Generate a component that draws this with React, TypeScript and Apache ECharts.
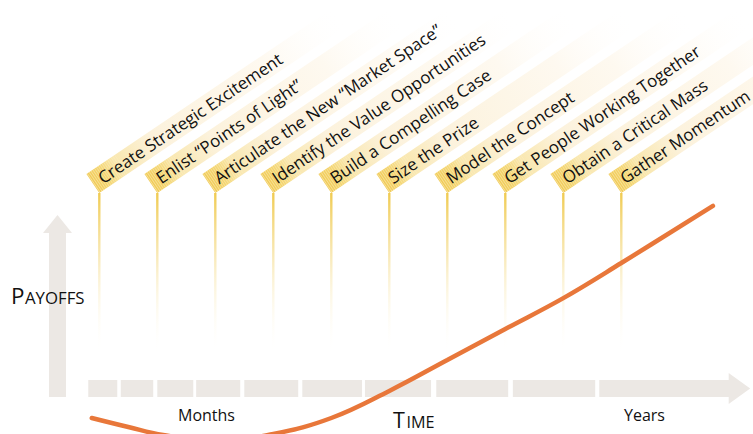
import React, { useEffect, useRef } from "react";
import * as echarts from "echarts";

// Milestones along the time axis (time in milestone steps)
const milestoneLabels = [
  "Create Strategic Excitement",
  "Enlist \u201cPoints of Light\u201d",
  "Articulate the New \u201cMarket Space\u201d",
  "Identify the Value Opportunities",
  "Build a Compelling Case",
  "Size the Prize",
  "Model the Concept",
  "Get People Working Together",
  "Obtain a Critical Mass",
  "Gather Momentum",
];
const milestoneTimes = [1, 2, 3, 4, 5, 6, 7, 8, 9, 10];

// Time-axis segments (months growing into years)
const segmentStart = [0.81, 1.37, 2.0, 2.67, 3.5, 4.5, 5.58, 6.81, 8.13, 9.62];
const segmentEnd = [1.31, 1.93, 2.62, 3.43, 4.43, 5.53, 6.72, 8.05, 9.55, 11.86];

// Payoff curve
const curveTime = [0.87, 1.5, 2.1, 3.0, 4.0, 5.0, 6.0, 7.0, 8.0, 9.0, 10.0, 11.58];
const curvePayoff = [0, -0.43, -0.81, -1.1, -0.76, 0, 1.29, 2.76, 4.24, 5.71, 7.38, 10.1];

const FONT = "'Open Sans', 'Noto Sans', sans-serif";
const GRAY = "#ECE8E4";
const TIP_Y = 193;
const ANGLE = (34 * Math.PI) / 180;

export default function App() {
  const ref = useRef<HTMLDivElement>(null);
  useEffect(() => {
    if (!ref.current) return;
    const chart = echarts.init(ref.current, null, { renderer: "svg" });

    const bandFill = new echarts.graphic.LinearGradient(0, 0, 1, 0, [
      { offset: 0, color: "#F1CB55" },
      { offset: 0.05, color: "#F4D673" },
      { offset: 0.1, color: "#F9E7AE" },
      { offset: 0.25, color: "#FCF2DC" },
      { offset: 0.7, color: "#FEF9F0" },
      { offset: 1, color: "rgba(255,255,255,0)" },
    ]);
    const stemFill = new echarts.graphic.LinearGradient(0, 0, 0, 1, [
      { offset: 0, color: "#F0CB52" },
      { offset: 0.35, color: "rgba(243,214,120,0.6)" },
      { offset: 1, color: "rgba(255,255,255,0)" },
    ]);
    const txt = (text: string, x: number, baseline: number, fontSize: number) => ({
      type: "text",
      z: 10,
      x,
      y: baseline - fontSize * 0.33,
      style: {
        text,
        fontSize,
        lineHeight: Math.round(fontSize * 0.8),
        fontFamily: FONT,
        fill: "#111",
        verticalAlign: "middle",
      },
    });

    const option: any = {
      animation: false,
      backgroundColor: "#ffffff",
      grid: { left: 41.3, right: 15.7, top: 208, bottom: 16 },
      xAxis: { type: "value", min: 0, max: 12, show: false },
      yAxis: { type: "value", min: 0, max: 10, show: false },
      graphic: [
        {
          type: "polygon",
          z: 1,
          shape: {
            points: [
              [49, 397],
              [49, 233],
              [43, 233],
              [57.5, 215],
              [72, 233],
              [66, 233],
              [66, 397],
            ],
          },
          style: { fill: GRAY },
        },
        txt("P", 11, 303, 22.4),
        txt("AYOFFS", 25, 303, 16.8),
        txt("T", 393, 427, 21.5),
        txt("IME", 406.5, 427, 16.2),
        txt("Months", 178, 420, 16),
        txt("Years", 624, 420, 16),
      ],
      series: [
        {
          type: "custom",
          name: "time",
          clip: false,
          z: 1,
          data: segmentStart.map((s, i) => [s, segmentEnd[i], i]),
          renderItem: (params: any, api: any) => {
            const p1 = api.coord([api.value(0), 0]);
            const p2 = api.coord([api.value(1), 0]);
            const children: any[] = [
              {
                type: "rect",
                shape: { x: p1[0], y: 380, width: p2[0] - p1[0], height: 17 },
                style: { fill: GRAY },
              },
            ];
            if (api.value(2) === segmentStart.length - 1) {
              children.push({
                type: "polygon",
                shape: {
                  points: [
                    [p2[0] - 0.5, 373],
                    [p2[0] + 21, 388.5],
                    [p2[0] - 0.5, 404],
                  ],
                },
                style: { fill: GRAY },
              });
            }
            return { type: "group", children };
          },
        },
        {
          type: "custom",
          name: "milestones",
          clip: false,
          z: 2,
          data: milestoneTimes.map((t, i) => [t, i]),
          renderItem: (params: any, api: any) => {
            const p = api.coord([api.value(0), 0]);
            const x = p[0];
            const label = milestoneLabels[api.value(1)];
            const stripes: any[] = [];
            for (let k = 0; k < 16; k++) {
              stripes.push({
                type: "line",
                shape: { x1: 1 + k * 2.2, y1: 0, x2: 1 + k * 2.2, y2: -23 },
                style: { stroke: "rgba(255,255,255," + (0.45 - k * 0.02) + ")", lineWidth: 0.8 },
              });
            }
            return {
              type: "group",
              children: [
                {
                  type: "rect",
                  shape: { x: x - 1.2, y: TIP_Y, width: 2.4, height: 162 },
                  style: { fill: stemFill },
                },
                {
                  type: "group",
                  x,
                  y: TIP_Y,
                  rotation: ANGLE,
                  children: [
                    {
                      type: "rect",
                      shape: { x: 0, y: -23, width: 300, height: 23 },
                      style: { fill: bandFill },
                    },
                    ...stripes,
                    {
                      type: "text",
                      x: 8,
                      y: -11.5,
                      style: {
                        text: label,
                        fontSize: 17,
                        fontFamily: FONT,
                        fill: "#111",
                        verticalAlign: "middle",
                        align: "left",
                      },
                    },
                  ],
                },
              ],
            };
          },
        },
        {
          type: "line",
          name: "payoff",
          clip: false,
          z: 5,
          smooth: 0.4,
          showSymbol: false,
          data: curveTime.map((t, i) => [t, curvePayoff[i]]),
          lineStyle: { color: "#E8773A", width: 4.5, cap: "round" },
        },
      ],
    };
    chart.setOption(option);
    return () => chart.dispose();
  }, []);
  return (
    <div
      ref={ref}
      style={{ position: "fixed", left: 0, top: 0, width: 753, height: 434 }}
    />
  );
}
